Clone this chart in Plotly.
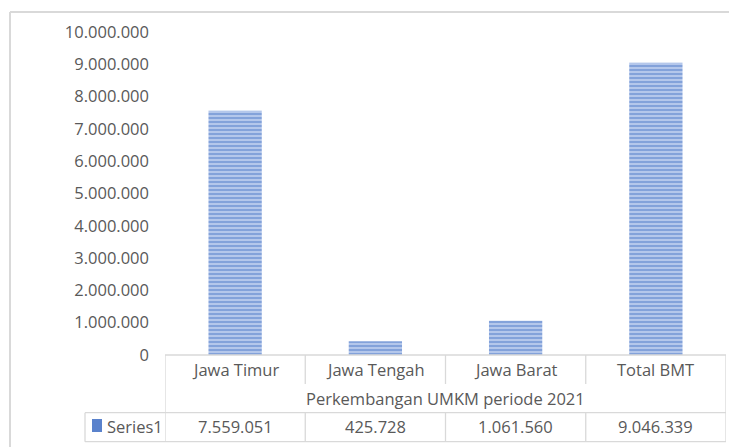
import plotly.graph_objects as go

categories = ["Jawa Timur", "Jawa Tengah", "Jawa Barat", "Total BMT"]
values = [7559051, 425728, 1061560, 9046339]
series_name = "Series1"
group_label = "Perkembangan UMKM periode 2021"
y_ticks = [0, 1000000, 2000000, 3000000, 4000000, 5000000, 6000000, 7000000, 8000000, 9000000, 10000000]

OFF = 8  # browser default body margin
W, H = 737 - OFF, 447 - OFF
L, R, T, B = 165 - OFF, 726 - OFF, 32 - OFF, 355 - OFF  # plot area pixels (figure coords)
pw, ph = R - L, B - T


def px(xpix):
    return (xpix - OFF - L) / pw


def py(ypix):
    return (B - (ypix - OFF)) / ph


def fmt(v):
    return f"{v:,}".replace(",", ".")


FONT = "Open Sans"
FS = 16.5
TXT = "#595959"
GRID = "#d9d9d9"

fig = go.Figure()
fig.add_trace(go.Bar(
    x=categories, y=values, width=0.38, name=series_name,
    marker=dict(color="#c3d3f0", line=dict(width=0),
                pattern=dict(shape="-", fgcolor="#4472c4", bgcolor="#c3d3f0", size=4, solidity=0.62)),
    showlegend=False,
))

shapes = []
ln = dict(color=GRID, width=1.3)
# outer chart border (left and top)
shapes.append(dict(type="line", xref="paper", yref="paper", x0=px(10), x1=px(10), y0=py(12), y1=py(460), line=dict(color=GRID, width=2)))
shapes.append(dict(type="line", xref="paper", yref="paper", x0=px(10), x1=px(760), y0=py(12), y1=py(12), line=dict(color=GRID, width=2)))

y_top, y_mid, y_row, y_bot = 355, 384, 412.7, 441.7
n = len(categories)
# table outer verticals
shapes.append(dict(type="line", xref="x", yref="paper", x0=-0.5, x1=-0.5, y0=py(y_top), y1=py(y_bot), line=ln))
shapes.append(dict(type="line", xref="x", yref="paper", x0=n - 0.5, x1=n - 0.5, y0=py(y_top), y1=py(y_bot), line=ln))
# top of table
shapes.append(dict(type="line", xref="x", yref="paper", x0=-0.5, x1=n - 0.5, y0=py(y_top), y1=py(y_top), line=ln))
# inner verticals
for i in range(n - 1):
    b = i + 0.5
    shapes.append(dict(type="line", xref="x", yref="paper", x0=b, x1=b, y0=py(y_top), y1=py(y_mid), line=ln))
    shapes.append(dict(type="line", xref="x", yref="paper", x0=b, x1=b, y0=py(y_row), y1=py(y_bot), line=ln))
# series row
shapes.append(dict(type="line", xref="paper", yref="paper", x0=px(85), x1=px(726), y0=py(y_row), y1=py(y_row), line=ln))
shapes.append(dict(type="line", xref="paper", yref="paper", x0=px(85), x1=px(726), y0=py(y_bot), y1=py(y_bot), line=ln))
shapes.append(dict(type="line", xref="paper", yref="paper", x0=px(85), x1=px(85), y0=py(y_row), y1=py(y_bot), line=ln))
# legend key
shapes.append(dict(type="rect", xref="paper", yref="paper", x0=px(92), x1=px(102), y0=py(432), y1=py(419),
                   fillcolor="#5a82cc", line=dict(width=0)))

annotations = []
for i, c in enumerate(categories):
    annotations.append(dict(x=i, y=py(369), xref="x", yref="paper", text=c, showarrow=False,
                            font=dict(family=FONT, size=FS, color=TXT), yanchor="middle"))
    annotations.append(dict(x=i, y=py(427), xref="x", yref="paper", text=fmt(values[i]), showarrow=False,
                            font=dict(family=FONT, size=FS, color=TXT), yanchor="middle"))
annotations.append(dict(x=(n - 1) / 2, y=py(398), xref="x", yref="paper", text=group_label, showarrow=False,
                        font=dict(family=FONT, size=FS, color=TXT), yanchor="middle"))
annotations.append(dict(x=px(105), y=py(427), xref="paper", yref="paper", text=series_name, showarrow=False,
                        font=dict(family=FONT, size=FS, color=TXT), xanchor="left", yanchor="middle"))

fig.update_layout(
    width=W, height=H,
    margin=dict(l=L, r=W - R, t=T, b=H - B),
    paper_bgcolor="white", plot_bgcolor="white",
    separators=",.",
    shapes=shapes, annotations=annotations,
    xaxis=dict(showticklabels=False, showgrid=False, zeroline=False, showline=False, ticks="",
               range=[-0.5, n - 0.5]),
    yaxis=dict(range=[0, 10000000], tickvals=y_ticks, ticktext=[fmt(v) for v in y_ticks],
               showgrid=False, zeroline=False, showline=False, ticks="", ticklabelstandoff=15,
               tickfont=dict(family=FONT, size=FS, color=TXT)),
)

fig.write_html("out.html")
